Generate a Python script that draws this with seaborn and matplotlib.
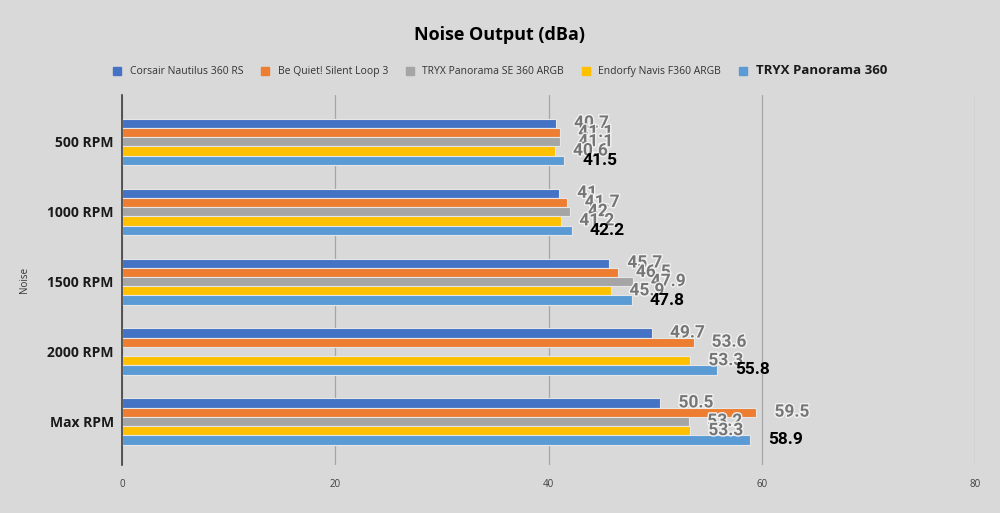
import pandas as pd
import numpy as np
import seaborn as sns
import matplotlib
matplotlib.use('Agg')
import matplotlib.pyplot as plt
import matplotlib.patheffects as pe

# data
speeds = ['500 RPM', '1000 RPM', '1500 RPM', '2000 RPM', 'Max RPM']
coolers = ['Corsair Nautilus 360 RS', 'Be Quiet! Silent Loop 3', 'TRYX Panorama SE 360 ARGB',
           'Endorfy Navis F360 ARGB', 'TRYX Panorama 360']
corsair = [40.7, 41.0, 45.7, 49.7, 50.5]
bequiet = [41.1, 41.7, 46.5, 53.6, 59.5]
tryx_se = [41.1, 42.0, 47.9, np.nan, 53.2]
endorfy = [40.6, 41.2, 45.9, 53.3, 53.3]
tryx = [41.5, 42.2, 47.8, 55.8, 58.9]
colors = ['#4472C4', '#ED7D31', '#A5A5A5', '#FFC000', '#5B9BD5']

rows = []
for name, vals in zip(coolers, [corsair, bequiet, tryx_se, endorfy, tryx]):
    for s, v in zip(speeds, vals):
        rows.append({'Speed': s, 'Cooler': name, 'dBa': v})
df = pd.DataFrame(rows)

sns.set_style('white')
plt.rcParams['font.family'] = ['Open Sans', 'DejaVu Sans']

fig = plt.figure(figsize=(10, 5.13), dpi=100, facecolor='#d9d9d9')
ax = fig.add_axes([0.122, 0.094, 0.853, 0.721])
ax.set_facecolor('#d9d9d9')

sns.barplot(data=df, y='Speed', x='dBa', hue='Cooler', order=speeds, hue_order=coolers,
            palette=colors, orient='h', width=0.66, edgecolor='#e6e6e6', linewidth=0.8,
            saturation=1, ax=ax, legend=False)

ax.set_xlim(0, 80)
ax.set_ylim(4.62, -0.67)
ax.set_xticks([0, 20, 40, 60, 80])
ax.grid(axis='x', color='#a6a6a6', linewidth=0.9)
ax.set_axisbelow(True)
for sp in ['top', 'right', 'bottom']:
    ax.spines[sp].set_visible(False)
ax.spines['left'].set_color('#404040')
ax.spines['left'].set_linewidth(1.2)
ax.tick_params(axis='x', length=0, labelsize=7, colors='#404040', pad=10)
ax.tick_params(axis='y', length=0, pad=6)
for t in ax.get_yticklabels():
    t.set_fontweight('bold')
    t.set_fontsize(10)
    t.set_color('#1a1a1a')
ax.set_xlabel('')
ax.set_ylabel('Noise', fontsize=7, color='#333333')
ax.yaxis.set_label_coords(-0.108, 0.5)

# value labels
n = len(coolers)
w = 0.66 / n
for i, (name, vals) in enumerate(zip(coolers, [corsair, bequiet, tryx_se, endorfy, tryx])):
    for j, v in enumerate(vals):
        if np.isnan(v):
            continue
        y = j - 0.33 + w * (i + 0.5)
        txt = f'{v:g}'
        if i == n - 1:
            ax.annotate(txt, (v, y), xytext=(13, 0), textcoords='offset points', va='center',
                        ha='left', fontsize=12.5, fontweight='bold', color='black',
                        family=['Roboto', 'DejaVu Sans'])
        else:
            ax.annotate(txt, (v, y), xytext=(13, 0), textcoords='offset points', va='center',
                        ha='left', fontsize=12.5, fontweight='bold', color='#767676',
                        family=['Roboto', 'DejaVu Sans'],
                        path_effects=[pe.withStroke(linewidth=2, foreground='#f2f2f2')])

fig.text(0.5, 0.932, 'Noise Output (dBa)', ha='center', va='center', fontsize=13,
         fontweight='bold', color='black')

# legend
handles = [plt.Rectangle((0, 0), 1, 1, color=c) for c in colors]
leg = fig.legend(handles, coolers, loc='center', bbox_to_anchor=(0.5, 0.862), ncol=5,
                 frameon=False, fontsize=7.5, handlelength=0.8, handleheight=0.8,
                 columnspacing=1.7, handletextpad=0.8)
for t in leg.get_texts():
    t.set_color('#333333')
last = leg.get_texts()[-1]
last.set_fontweight('bold')
last.set_fontsize(9.5)
last.set_color('#1a1a1a')

fig.savefig('out.png', dpi=100, facecolor='#d9d9d9')
